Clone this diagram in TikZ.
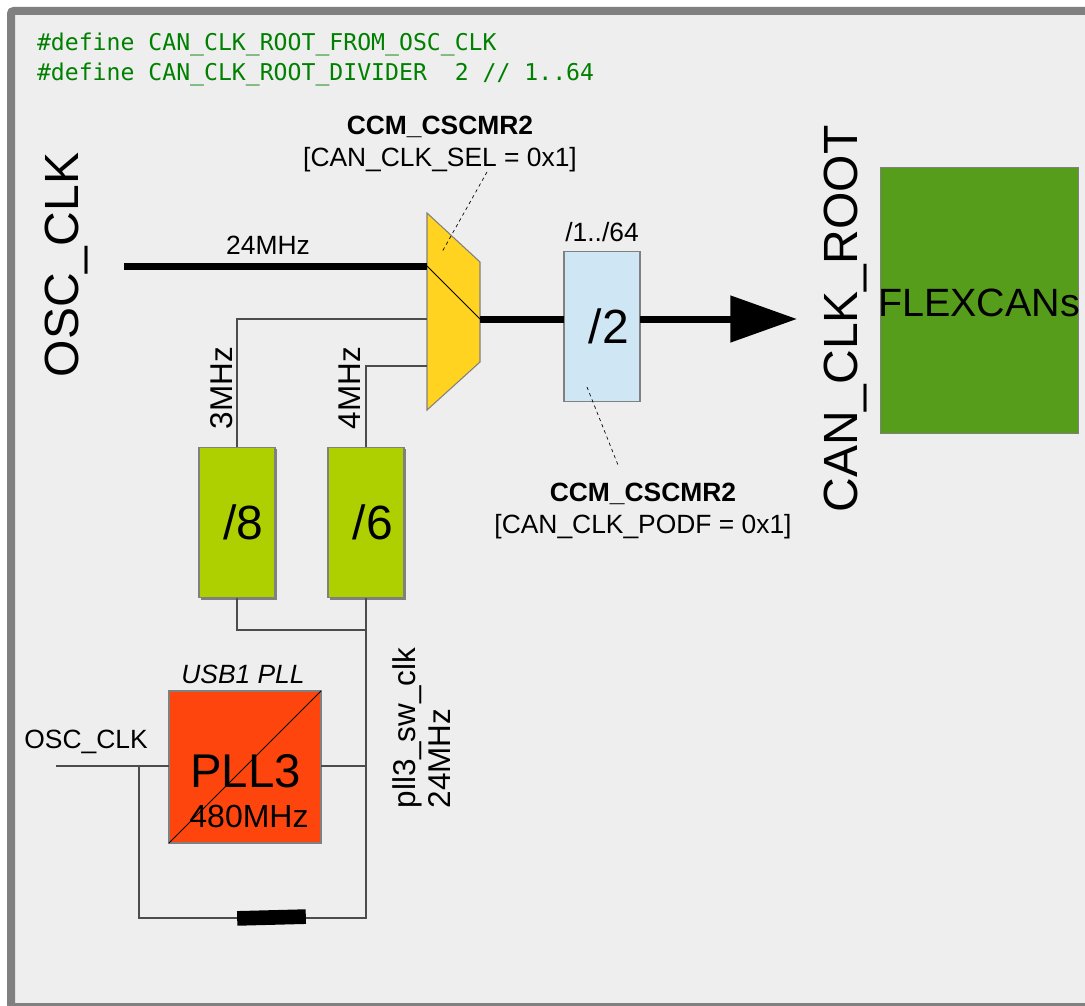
\documentclass[tikz,border=0pt]{standalone}
\usepackage{fontspec}
\setmainfont{Liberation Sans}
\newfontfamily\codefont{DejaVu Sans Mono}
\usepackage{tikz}
\usetikzlibrary{arrows.meta, calc, positioning, shadows}
\newcommand{\fsz}[2]{\fontsize{#1}{#2}\selectfont}
\definecolor{framegray}{RGB}{128,128,128}
\definecolor{panelgray}{RGB}{238,238,238}
\definecolor{muxyellow}{RGB}{255,211,32}
\definecolor{divblue}{RGB}{207,231,245}
\definecolor{divgreen}{RGB}{174,207,0}
\definecolor{pllred}{RGB}{255,69,14}
\definecolor{flexgreen}{RGB}{87,157,28}
\definecolor{codegreen}{RGB}{0,128,0}

\begin{document}
\begin{tikzpicture}[
    x=0.75pt, y=-0.75pt,
    box/.style={rectangle, draw=framegray, line width=0.8pt, outer sep=0pt, inner sep=0pt, align=center},
    divbox/.style={box, minimum width=57pt, minimum height=113pt, font=\fsz{36}{36}},
    greenbox/.style={divbox, fill=divgreen, drop shadow={shadow xshift=1.5pt, shadow yshift=-1.5pt, fill=framegray, opacity=1}},
    bluebox/.style={divbox, fill=divblue},
    wire/.style={draw=black!70, line width=0.8pt},
    bus/.style={draw=black, line width=5.25pt},
    note/.style={draw=black, line width=0.5pt, dash pattern=on 2.5pt off 2.5pt},
    lbl/.style={inner sep=0pt, outer sep=0pt, align=center, font=\fsz{19.8}{24}},
    biglbl/.style={inner sep=0pt, outer sep=0pt, rotate=90, font=\fsz{36}{36}},
    sidelbl/.style={inner sep=0pt, outer sep=0pt, rotate=90, align=left, font=\fsz{23.6}{26.3}},
    code/.style={inner sep=0pt, outer sep=0pt, anchor=west, text=codegreen, font=\codefont\fsz{17.35}{20}}
]
\useasboundingbox (0,0) rectangle (1085,1006);

% Panel (runs off the right and bottom page edges)
\draw[draw=framegray, fill=panelgray, line width=6pt, rounded corners=2pt] (11,11) rectangle (1095,1007);

% Code lines
\node[code] (defsrc) at (37,44) {\#define CAN\_CLK\_ROOT\_FROM\_OSC\_CLK};
\node[code] (defdiv) at (37,74) {\#define CAN\_CLK\_ROOT\_DIVIDER\ \ 2 // 1..64};

% Mux and dividers
\coordinate (muxtop) at (427,213);
\coordinate (muxbot) at (427,410);
\coordinate (selin) at (427,266);
\coordinate (sel3) at (427,319);
\coordinate (sel4) at (427,366);
\coordinate (selout) at (480,319);
\draw[draw=framegray, fill=muxyellow, line width=0.8pt] (muxtop) -- (480,262) -- (480,362) -- (muxbot) -- cycle;
\node[bluebox] (div2) at (602,326.5) {\hspace*{10pt}/2};
\node[greenbox] (div8) at (237,522.5) {\hspace*{10pt}/8};
\node[greenbox, right=39.75pt of div8] (div6) {\hspace*{10pt}/6};

% PLL
\node[box, fill=pllred, minimum width=114pt, minimum height=114pt] (pll) at (245,767) {};
\node[lbl, font=\fsz{35.5}{36}] (pllname) at (245.5,771) {PLL3};
\node[lbl, font=\fsz{24}{24}] (pllfreq) at (249,816) {480MHz};
\node[lbl, font=\itshape\fsz{19.8}{24}, above=5.5pt of pll, xshift=-1.5pt] (plltitle) {USB1 PLL};

% Target
\node[box, fill=flexgreen, minimum width=148pt, minimum height=199pt] (flex) at (979.5,300.5) {};
\node[lbl, font=\fsz{29.6}{30}] (flexname) at (979,303) {FLEXCANs};

% Bypass switch
\node[rectangle, fill=black, minimum width=51.5pt, minimum height=11pt, inner sep=0pt, outer sep=0pt, rotate=1.5] (bypass) at (271.5,917.5) {};

% Free ends
\coordinate (oscin) at (124,266);
\coordinate (pllin) at (56,766);
\coordinate (canin) at (797,319);
\coordinate (pllbus) at (366,630);
\coordinate (pllout) at (366,766);
\coordinate (bypl) at (139,766);
\coordinate (byp) at (366,918);
\coordinate (selnote) at (487,172);
\coordinate (selhit) at (442,252);
\coordinate (podfnote) at (618,465);
\coordinate (podfhit) at (587,387);

% Clock paths
\draw[bus] (oscin) -- (selin);
\draw[bus] (selout) -- (selout -| div2.west);
\draw[draw=black, line width=5.25pt, -{Triangle[length=50pt, width=34pt, inset=0pt, sep=0pt]}] (div2.east |- selout) -- (canin);
\draw[draw=black, line width=0.6pt] (selin) -- (selout);
\draw[wire] (div8.north) |- (sel3);
\draw[wire] (div6.north) |- (sel4);
\draw[wire] (div8.south) |- (pllbus);
\draw[wire] (div6.south) -- (pllbus);
\draw[wire] (pllbus) -- (pllout) -- (pll.east |- pllout);
\draw[wire] (pllin) -- (pll.west |- pllin);
\draw[wire] (bypl) |- (bypass.west |- byp);
\draw[wire] (bypass.east |- byp) -- (byp) -- (pllout);
\draw[draw=black, line width=0.6pt] (pll.south west) -- (pll.north east);

% Register notes
\draw[note] (selnote) -- (selhit);
\draw[note] (podfhit) -- (podfnote);

% Labels
\node[lbl] (selreg) at (440,144) {\textbf{CCM\_CSCMR2}\\[0pt][CAN\_CLK\_SEL = 0x1]};
\node[lbl] (podfreg) at (643,511) {\textbf{CCM\_CSCMR2}\\[0pt][CAN\_CLK\_PODF = 0x1]};
\node[lbl] (oscfreq) at (268,245) {24MHz};
\node[lbl, above=7pt of div2] (podfrange) {/1../64};
\node[lbl] (pllsrc) at (86,742) {OSC\_CLK};
\node[biglbl] (osclbl) at (66.5,265) {OSC\_CLK};
\node[biglbl] (canlbl) at (846,319) {CAN\_CLK\_ROOT};
\node[sidelbl] (lbl3) at (222,388) {3MHz};
\node[sidelbl] (lbl4) at (349.5,388) {4MHz};
\node[sidelbl] (pllclk) at (421.5,728) {pll3\_sw\_clk\\24MHz};
\end{tikzpicture}
\end{document}
